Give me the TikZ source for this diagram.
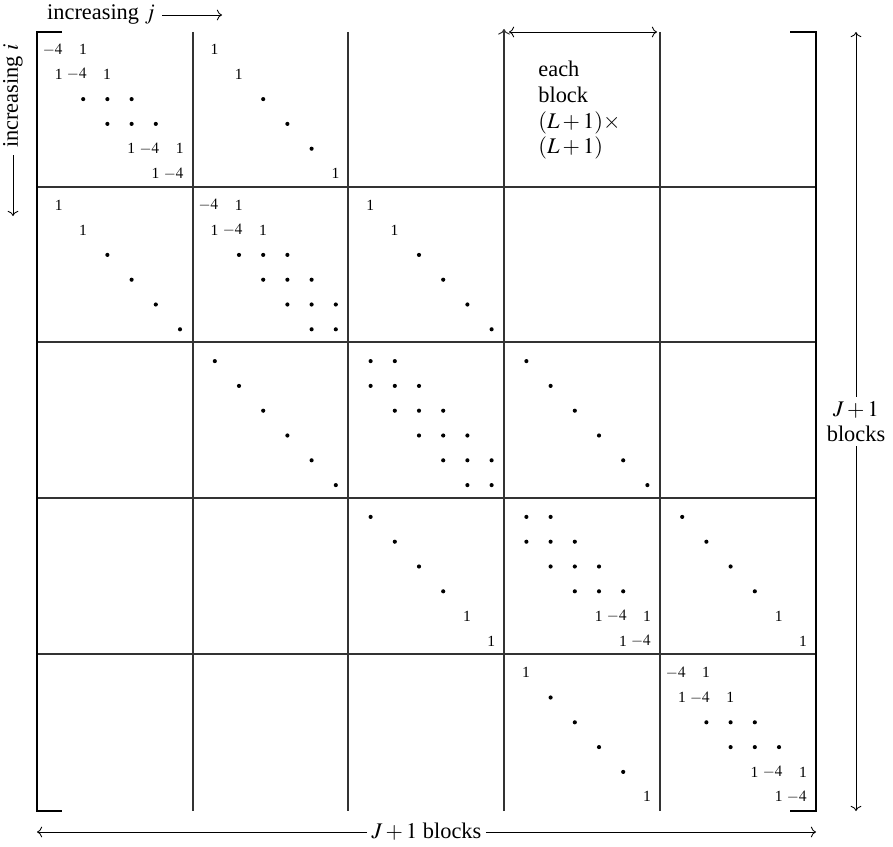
\documentclass[tikz,border=0pt]{standalone}
\usepackage{mathptmx}
\usepackage{fontspec}
\setmainfont{Liberation Serif}
\usetikzlibrary{arrows.meta}

\tikzset{
  numentry/.style={anchor=east, inner sep=0pt, font=\fontsize{7.5}{9}\selectfont},
  dotentry/.style={circle, fill, inner sep=0pt, minimum size=2pt},
  gridline/.style={line width=0.5pt, black!80},
  bracket/.style={line width=1.2pt},
  dimlabel/.style={inner sep=2pt, align=center},
}

% pixel position of entry (row, column) inside block (block column, block row)
\newcommand{\entx}[2]{37+155.8*(#1-1)+22+24.2*#2}
\newcommand{\enty}[2]{32+155.8*(#1-1)+17.5+24.8*#2}

% numbers and dots of one block: #1 = block column, #2 = block row
\newcommand{\numentries}[3]{%
  \foreach \rr/\cc/\val in {#3}
    \node[numentry] (n#1#2-\rr\cc) at ({\entx{#1}{\cc}+4},{\enty{#2}{\rr}}) {\val};}
\newcommand{\dotentries}[3]{%
  \foreach \rr/\cc in {#3}
    \node[dotentry] (d#1#2-\rr\cc) at ({\entx{#1}{\cc}},{\enty{#2}{\rr}}) {};}

\begin{document}
\begin{tikzpicture}[x=0.4831pt, y=-0.4831pt, >=To,
    every node/.append style={font=\fontsize{10.8}{12.4}\selectfont}]
  \useasboundingbox (0,0) rectangle (893,847);

  % block grid
  \foreach \gx in {193,348,660}
    \draw[gridline] (\gx,32) -- (\gx,811);
  \draw[gridline,->] (504,811) -- (504,29);
  \foreach \gy in {187,342,498,654}
    \draw[gridline] (37,\gy) -- (816,\gy);

  % brackets
  \draw[bracket] (62,32) -- (37,32) -- (37,811) -- (62,811);
  \draw[bracket] (790,32) -- (816,32) -- (816,811) -- (790,811);

  % row 1 of blocks
  \numentries{1}{1}{0/0/$-4$, 0/1/1, 1/0/1, 1/1/$-4$, 1/2/1, 4/3/1, 4/4/$-4$, 4/5/1, 5/4/1, 5/5/$-4$}
  \dotentries{1}{1}{2/1, 2/2, 2/3, 3/2, 3/3, 3/4}
  \numentries{2}{1}{0/0/1, 1/1/1, 5/5/1}
  \dotentries{2}{1}{2/2, 3/3, 4/4}

  % row 2
  \numentries{1}{2}{0/0/1, 1/1/1}
  \dotentries{1}{2}{2/2, 3/3, 4/4, 5/5}
  \numentries{2}{2}{0/0/$-4$, 0/1/1, 1/0/1, 1/1/$-4$, 1/2/1}
  \dotentries{2}{2}{2/1, 2/2, 2/3, 3/2, 3/3, 3/4, 4/3, 4/4, 4/5, 5/4, 5/5}
  \numentries{3}{2}{0/0/1, 1/1/1}
  \dotentries{3}{2}{2/2, 3/3, 4/4, 5/5}

  % row 3
  \dotentries{2}{3}{0/0, 1/1, 2/2, 3/3, 4/4, 5/5}
  \dotentries{3}{3}{0/0, 0/1, 1/0, 1/1, 1/2, 2/1, 2/2, 2/3, 3/2, 3/3, 3/4, 4/3, 4/4, 4/5, 5/4, 5/5}
  \dotentries{4}{3}{0/0, 1/1, 2/2, 3/3, 4/4, 5/5}

  % row 4
  \dotentries{3}{4}{0/0, 1/1, 2/2, 3/3}
  \numentries{3}{4}{4/4/1, 5/5/1}
  \dotentries{4}{4}{0/0, 0/1, 1/0, 1/1, 1/2, 2/1, 2/2, 2/3, 3/2, 3/3, 3/4}
  \numentries{4}{4}{4/3/1, 4/4/$-4$, 4/5/1, 5/4/1, 5/5/$-4$}
  \dotentries{5}{4}{0/0, 1/1, 2/2, 3/3}
  \numentries{5}{4}{4/4/1, 5/5/1}

  % row 5
  \numentries{4}{5}{0/0/1, 5/5/1}
  \dotentries{4}{5}{1/1, 2/2, 3/3, 4/4}
  \numentries{5}{5}{0/0/$-4$, 0/1/1, 1/0/1, 1/1/$-4$, 1/2/1, 4/3/1, 4/4/$-4$, 4/5/1, 5/4/1, 5/5/$-4$}
  \dotentries{5}{5}{2/1, 2/2, 2/3, 3/2, 3/3, 3/4}

  % block size note
  \node[anchor=north west, align=left, inner sep=0pt] (blocknote) at (538,61) {each\\block\\$(L+1)\times$\\$(L+1)$};
  \coordinate (bw) at (509,32);
  \coordinate (be) at (657,32);
  \draw[<->] (bw) -- (be);

  % index directions
  \node (jlabel) at (101,15) {increasing $j$};
  \coordinate (jend) at (222,15);
  \draw[->] (jlabel.east) -- (jend);
  \node[rotate=90] (ilabel) at (13,96) {increasing $i$};
  \coordinate (iend) at (13,216);
  \draw[->] (ilabel.west) -- (iend);

  % overall size
  \node[dimlabel] (rlabel) at (856,421.5) {$J+1$\\blocks};
  \coordinate (rtop) at (856,32);
  \coordinate (rbot) at (856,811);
  \draw[->] (rlabel) -- (rtop);
  \draw[->] (rlabel) -- (rbot);
  \node[dimlabel] (blabel) at (426.5,832) {$J+1$ blocks};
  \coordinate (bleft) at (37,832);
  \coordinate (bright) at (816,832);
  \draw[->] (blabel) -- (bleft);
  \draw[->] (blabel) -- (bright);
\end{tikzpicture}
\end{document}
